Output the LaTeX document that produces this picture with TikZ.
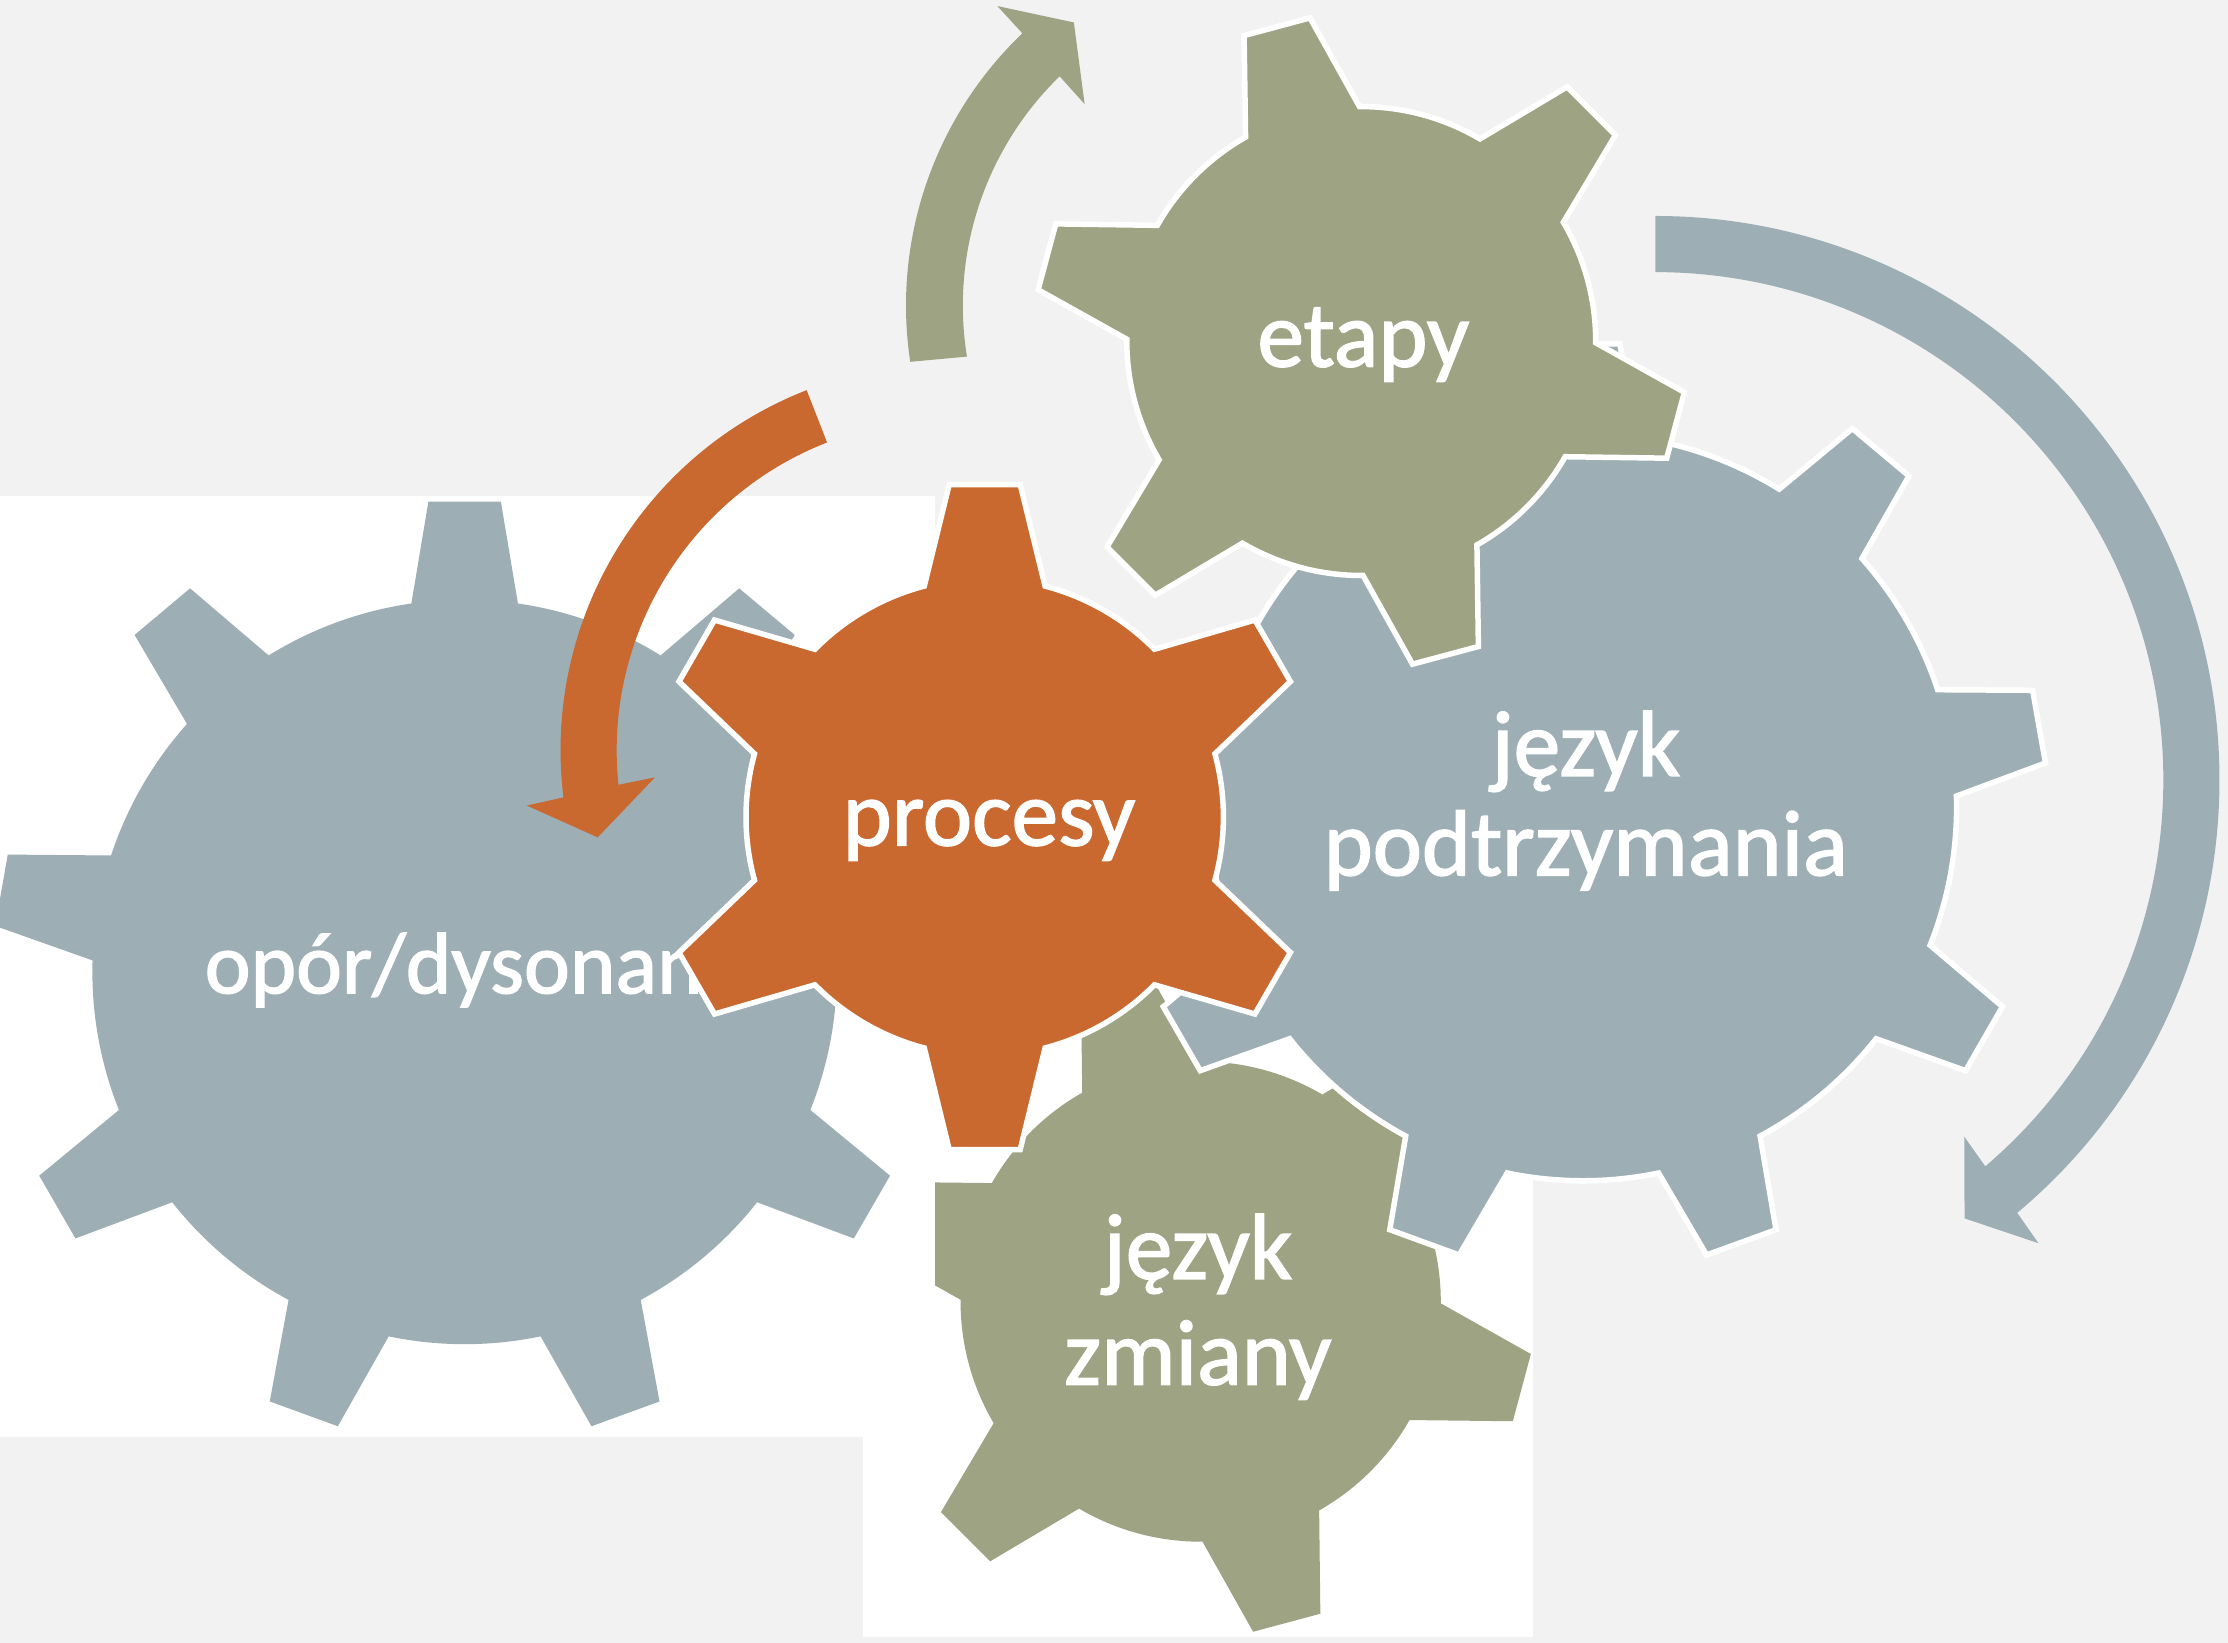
\documentclass[tikz,border=0pt]{standalone}
\usepackage{fontspec}
\setmainfont{Carlito}[FakeBold=1.6]
\definecolor{pagegrey}{HTML}{F2F2F2}
\definecolor{steel}{HTML}{9DAFB5}
\definecolor{sage}{HTML}{9DA383}
\definecolor{rust}{HTML}{C9682F}

% gear outline: #1 style, #2 centre, #3 teeth, #4 angle of first tooth,
% #5 body radius, #6 tip radius, #7 half-width at root, #8 half-width at tip
\newcommand\gearshape[8]{%
  \pgfmathsetmacro\gStep{360/#3}%
  \pgfmathsetmacro\gDb{asin(#7/#5)}%
  \pgfmathsetmacro\gDt{atan(#8/#6)}%
  \pgfmathsetmacro\gRt{10*sqrt((#6/10)*(#6/10)+(#8/10)*(#8/10))}%
  \path[#1,shift={#2}] ({#4-\gDb}:#5)
    \foreach \k in {1,...,#3}{%
      -- ({#4+(\k-1)*\gStep-\gDt}:\gRt)
      -- ({#4+(\k-1)*\gStep+\gDt}:\gRt)
      -- ({#4+(\k-1)*\gStep+\gDb}:#5)
      arc[start angle={#4+(\k-1)*\gStep+\gDb}, end angle={#4+\k*\gStep-\gDb}, radius=#5]
    } -- cycle;
}

\begin{document}
\begin{tikzpicture}[x=0.1mm,y=-0.1mm,
  gearlabel/.style={text=white,inner sep=0pt,anchor=base,font=\fontsize{18.7}{22}\selectfont},
  outlined/.style={draw=white,line width=1.1,line join=miter}]

% page and the two white panels
\fill[pagegrey] (0,0) rectangle (1568,1156);
\useasboundingbox (0,0) rectangle (1568,1156);
\fill[white] (607,650) rectangle (1079,1152);

% lower gear
\gearshape{fill=sage}{(845,916)}{6}{-105}{169}{234}{42.5}{24.5}
\node[gearlabel] (zmianaA) at (843,900) {język};
\node[gearlabel] (zmianaB) at (843,974.5) {zmiany};

\fill[white] (0,349) rectangle (658,1011);

% left gear
\gearshape{fill=steel}{(327,684)}{9}{-90}{262}{331}{37.5}{25.5}
\node[gearlabel,anchor=base west,font=\fontsize{17.4}{20}\selectfont] (opor) at (143.4,699) {opór/dysonans};

% right gear
\gearshape{fill=steel,outlined}{(1114,568)}{9}{-90}{263}{326}{38}{26}
\node[gearlabel] (podtrzA) at (1116,546) {język};
\node[gearlabel] (podtrzB) at (1116,616) {podtrzymania};

% top gear
\gearshape{fill=sage,outlined}{(958,240)}{6}{-105}{165}{229}{41.5}{24}
\node[gearlabel] (etapy) at (959.5,258) {etapy};

% central gear
\gearshape{fill=rust,outlined}{(693,575)}{6}{-90}{168}{234}{42.5}{25}
\node[gearlabel] (procesy) at (696,595) {procesy};

% circular arrows
\fill[sage,shift={(902.6,215)}] (-188.6:265) arc[start angle=-188.6,end angle=-133.7,radius=265]
  -- (-133.6:291) -- (-126.4:247.5) -- (-134.5:198.7) -- (-134.2:225)
  arc[start angle=-134.2,end angle=-189.2,radius=225] -- cycle;
\fill[rust,shift={(666.5,528)}] (-111.3:272) arc[start angle=-111.3,end angle=-187,radius=272]
  -- (-187.5:298.3) -- (-194:253.4) -- (-185.3:206.4) -- (-186:232.5)
  arc[start angle=-186,end angle=-111.3,radius=232.5] -- cycle;
\fill[steel,shift={(1165,549)}] (-90:397) arc[start angle=-90,end angle=50.1,radius=397]
  -- (50.4:423) -- (54.8:377.5) -- (49.1:332) -- (49.5:357.5)
  arc[start angle=49.5,end angle=-90,radius=357.5] -- cycle;
\end{tikzpicture}
\end{document}
